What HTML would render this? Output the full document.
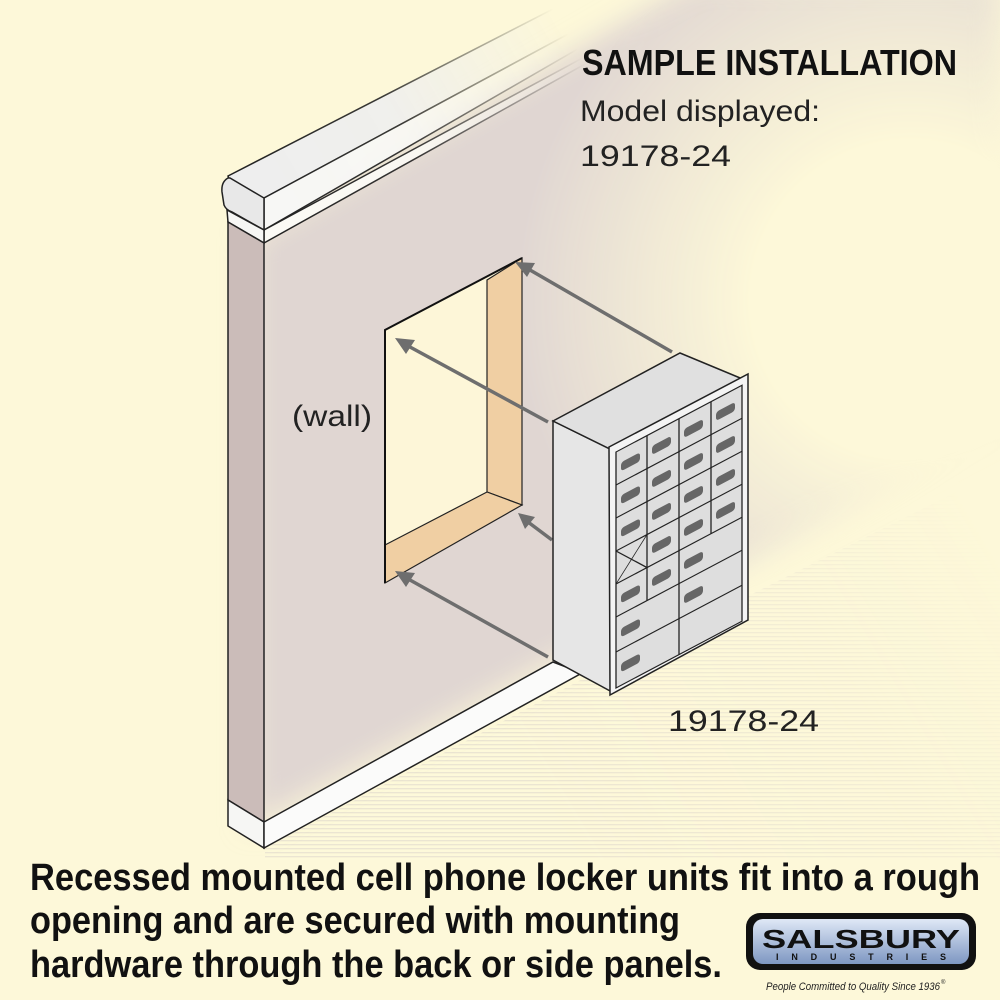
<!DOCTYPE html>
<html><head><meta charset="utf-8"><style>
html,body{margin:0;padding:0;background:#fdf8d9;}
svg{display:block}
text{font-family:"Liberation Sans",sans-serif;}
</style></head><body>
<svg width="1000" height="1000" viewBox="0 0 1000 1000" xmlns="http://www.w3.org/2000/svg">
<defs>
<radialGradient id="wallfade" cx="910" cy="300" r="480" gradientUnits="userSpaceOnUse">
<stop offset="0" stop-color="#000"/><stop offset="0.33" stop-color="#000"/><stop offset="0.6" stop-color="#888"/><stop offset="0.82" stop-color="#fff"/><stop offset="1" stop-color="#fff"/>
</radialGradient>
<linearGradient id="topfadeM" x1="0" y1="0" x2="0" y2="1" gradientUnits="userSpaceOnUse">
<stop offset="0" stop-color="#000"/><stop offset="0.05" stop-color="#333"/><stop offset="0.25" stop-color="#fff"/>
</linearGradient>
<mask id="wallmask1"><rect width="1000" height="1000" fill="url(#wallfade)"/></mask>
<mask id="wallmask2"><rect width="1000" height="1000" fill="url(#topfadeM)"/></mask>
<filter id="soft" x="-10%" y="-10%" width="120%" height="120%"><feGaussianBlur stdDeviation="14"/></filter>
<linearGradient id="capfade" x1="260" y1="200" x2="560" y2="20" gradientUnits="userSpaceOnUse">
<stop offset="0" stop-color="#fff" stop-opacity="1"/><stop offset="0.45" stop-color="#fff" stop-opacity="0.9"/><stop offset="1" stop-color="#fff" stop-opacity="0"/>
</linearGradient>
<mask id="capmask"><rect width="1000" height="1000" fill="url(#capfade)"/></mask>
<linearGradient id="logo" x1="0" y1="0" x2="0" y2="1">
<stop offset="0" stop-color="#dfe8f6"/><stop offset="1" stop-color="#7e97c2"/>
</linearGradient>
<pattern id="stripes" width="6" height="4" patternUnits="userSpaceOnUse">
<rect width="6" height="4" fill="#fdf8d9"/><rect y="0" width="6" height="1.3" fill="#e9e2d0"/>
</pattern>
<linearGradient id="floorfade" x1="560" y1="820" x2="1000" y2="560" gradientUnits="userSpaceOnUse">
<stop offset="0" stop-color="#fff" stop-opacity="0.9"/><stop offset="0.6" stop-color="#fff" stop-opacity="0.5"/><stop offset="1" stop-color="#fff" stop-opacity="0"/>
</linearGradient>
<mask id="floormask"><rect width="1000" height="1000" fill="url(#floorfade)"/></mask>
</defs>
<rect width="1000" height="1000" fill="#fdf8d9"/>
<!-- floor texture -->
<path d="M265,848 L590,675 L1000,470 L1000,860 L265,860Z" fill="url(#stripes)" mask="url(#floormask)"/>
<!-- wall face -->
<g mask="url(#wallmask2)">
<g mask="url(#wallmask1)">
<path d="M250,238 L700,-20 L1000,-20 L1000,430 L553,662 L250,828Z" fill="#e0d6d2" filter="url(#soft)"/>
</g>
</g>
<!-- top cap -->
<g mask="url(#capmask)">
<path d="M228,176 L590,-10 L650,-10 L264,198 L232,190 Z" fill="#eeeeee" stroke="#222" stroke-width="1.5"/>
<path d="M264,198 L650,-10 L680,-10 L264,230Z" fill="#f7f7f5" stroke="#222" stroke-width="1.5"/>
<path d="M264,230 L690,0 L700,0 L264,243Z" fill="#fbfaf5" stroke="#222" stroke-width="1.5"/>
</g>
<path d="M228,178 Q221,182 222,192 L224,205 Q226,210 232,212 L264,230 L264,198 L230,178Z" fill="#e8e8e8" stroke="#222" stroke-width="1.5"/>
<path d="M227,210 L264,230 L264,243 L228,222Z" fill="#f6f6f4" stroke="#222" stroke-width="1.5"/>
<!-- left side face -->
<path d="M228,222 L264,243 L264,822 L228,800Z" fill="#cbbcb9" stroke="#222" stroke-width="1.5"/>
<!-- baseboard -->
<path d="M228,800 L264,822 L264,848 L228,826Z" fill="#f6f6f4" stroke="#222" stroke-width="1.5"/>
<path d="M264,822 L553,662 L582,673 L264,848Z" fill="#fbfbfa" stroke="#222" stroke-width="1.5"/>
<!-- opening -->
<path d="M385,330 L522,258 L522,505 L385,583Z" fill="#fdf6d8"/>
<path d="M487,280 L522,258 L522,505 L487,492Z" fill="#f0cfa3" stroke="#222" stroke-width="1.2"/>
<path d="M385,545 L487,492 L522,505 L385,583Z" fill="#f0cfa3" stroke="#222" stroke-width="1.2"/>
<path d="M385,583 L385,330 L522,258" fill="none" stroke="#111" stroke-width="2"/>
<!-- arrows -->
<g stroke="#6e6e6e" stroke-width="3.5" fill="none">
<line x1="672" y1="352" x2="530" y2="270"/>
<line x1="548" y1="422" x2="410" y2="347"/>
<line x1="552" y1="540" x2="528" y2="522"/>
<line x1="548" y1="657" x2="410" y2="580"/>
</g>
<g fill="#6e6e6e">
<polygon points="515,262 535,263 527,277"/>
<polygon points="395,338 415,340 406,354"/>
<polygon points="518,513 535,517 525,529"/>
<polygon points="395,571 415,573 406,587"/>
</g>
<!-- locker -->
<path d="M553,421 L612,450 L612,692 L553,660Z" fill="#e6e6e6" stroke="#222" stroke-width="1.5"/>
<path d="M553,421 L680,353 L745,380 L612,450Z" fill="#e0e0e0" stroke="#222" stroke-width="1.5"/>
<path d="M609,447 L748,374 L748,620 L610,695Z" fill="#f4f4f4" stroke="#222" stroke-width="1.5"/>
<g transform="matrix(1,-0.53,0,1,616,452)" stroke="#222" stroke-width="1.3">
<rect x="0" y="0" width="126" height="236" fill="#dedede"/>
<g fill="none">
<line x1="31" y1="0" x2="31" y2="165"/><line x1="63" y1="0" x2="63" y2="236"/><line x1="95" y1="0" x2="95" y2="132"/>
<line x1="0" y1="33" x2="126" y2="33"/><line x1="0" y1="66" x2="126" y2="66"/><line x1="0" y1="99" x2="126" y2="99"/>
<line x1="0" y1="132" x2="126" y2="132"/><line x1="0" y1="165" x2="63" y2="165"/><line x1="63" y1="165" x2="126" y2="165"/>
<line x1="0" y1="200" x2="126" y2="200"/>
<line x1="0" y1="99" x2="31" y2="132" stroke-width="1"/><line x1="31" y1="99" x2="0" y2="132" stroke-width="1"/>
</g>
<g fill="#666" stroke="none">
<rect x="5" y="13" width="19" height="9" rx="3"/><rect x="36" y="13" width="19" height="9" rx="3"/><rect x="68" y="13" width="19" height="9" rx="3"/><rect x="100" y="13" width="19" height="9" rx="3"/>
<rect x="5" y="46" width="19" height="9" rx="3"/><rect x="36" y="46" width="19" height="9" rx="3"/><rect x="68" y="46" width="19" height="9" rx="3"/><rect x="100" y="46" width="19" height="9" rx="3"/>
<rect x="5" y="79" width="19" height="9" rx="3"/><rect x="36" y="79" width="19" height="9" rx="3"/><rect x="68" y="79" width="19" height="9" rx="3"/><rect x="100" y="79" width="19" height="9" rx="3"/>
<rect x="36" y="112" width="19" height="9" rx="3"/><rect x="68" y="112" width="19" height="9" rx="3"/><rect x="100" y="112" width="19" height="9" rx="3"/>
<rect x="5" y="145" width="19" height="9" rx="3"/><rect x="36" y="145" width="19" height="9" rx="3"/><rect x="68" y="145" width="19" height="9" rx="3"/>
<rect x="5" y="179" width="19" height="9" rx="3"/><rect x="68" y="179" width="19" height="9" rx="3"/>
<rect x="5" y="214" width="19" height="9" rx="3"/>
</g>
</g>
<!-- texts -->
<text x="582" y="75" font-size="36" font-weight="bold" fill="#111" textLength="375" lengthAdjust="spacingAndGlyphs">SAMPLE INSTALLATION</text>
<text x="580" y="121" font-size="30" fill="#222" textLength="240" lengthAdjust="spacingAndGlyphs">Model displayed:</text>
<text x="580" y="166" font-size="30" fill="#222" textLength="151" lengthAdjust="spacingAndGlyphs">19178-24</text>
<text x="292" y="426" font-size="30" fill="#222" textLength="80" lengthAdjust="spacingAndGlyphs">(wall)</text>
<text x="668" y="731" font-size="30" fill="#222" textLength="151" lengthAdjust="spacingAndGlyphs">19178-24</text>
<text x="30" y="890" font-size="38" font-weight="bold" fill="#111" textLength="950" lengthAdjust="spacingAndGlyphs">Recessed mounted cell phone locker units fit into a rough</text>
<text x="30" y="933" font-size="38" font-weight="bold" fill="#111" textLength="650" lengthAdjust="spacingAndGlyphs">opening and are secured with mounting</text>
<text x="30" y="977" font-size="38" font-weight="bold" fill="#111" textLength="692" lengthAdjust="spacingAndGlyphs">hardware through the back or side panels.</text>
<!-- logo -->
<rect x="746" y="913" width="230" height="57" rx="14" fill="#111"/>
<rect x="753" y="919" width="216" height="45" rx="10" fill="url(#logo)"/>
<text x="762" y="948" font-size="26" font-weight="bold" fill="#111" textLength="198" lengthAdjust="spacingAndGlyphs">SALSBURY</text>
<text x="776" y="960" font-size="9" font-weight="bold" fill="#111" textLength="170" lengthAdjust="spacing">INDUSTRIES</text>
<text x="766" y="990" font-size="11" font-style="italic" fill="#222" textLength="174" lengthAdjust="spacingAndGlyphs">People Committed to Quality Since 1936</text>
<text x="941" y="984" font-size="6" fill="#222">®</text>
</svg>
</body></html>
